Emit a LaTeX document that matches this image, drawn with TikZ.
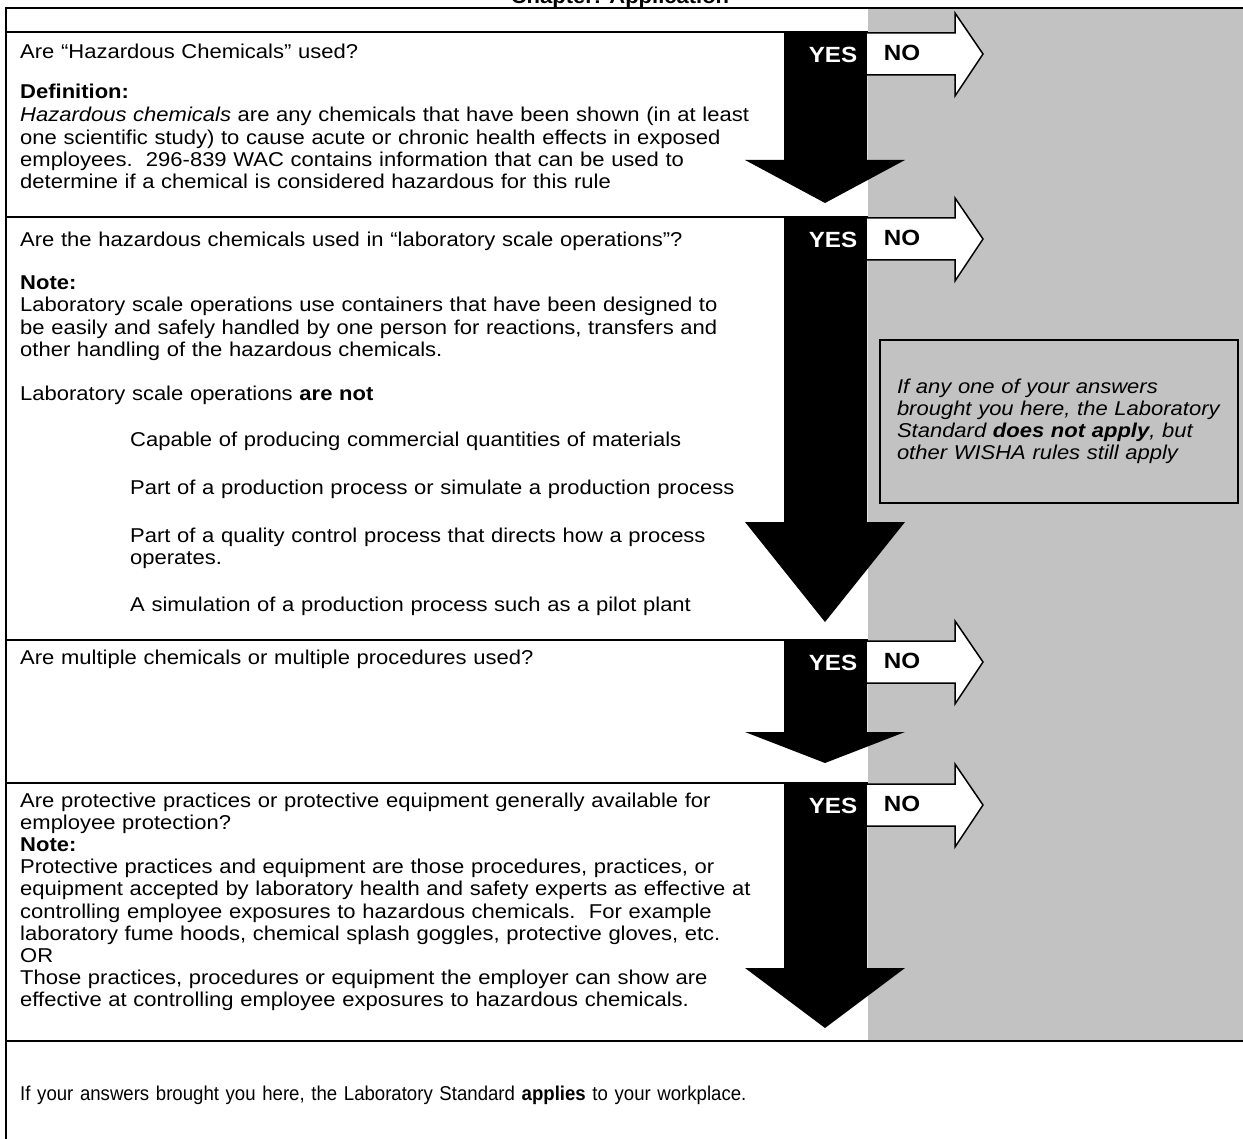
\documentclass[tikz,border=0pt]{standalone}
\usepackage{fontspec}
\setmainfont{Liberation Sans}[FakeStretch=1.1]
\newfontfamily\NarrowFont{Liberation Sans}[FakeStretch=0.93]
\usetikzlibrary{calc}
\newcommand{\ChartUnit}{1pt}
\newcommand{\BodyFont}{\fontsize{20}{22.2}\selectfont}
\newcommand{\MarkFont}{\fontsize{22}{24}\selectfont\bfseries}
\definecolor{scanGray}{gray}{0.76}

\begin{document}
\begin{tikzpicture}[x=\ChartUnit, y=-\ChartUnit, line join=miter,
    frame/.style={draw=black, line width=1.5pt},
    txt/.style={anchor=base west, inner sep=0pt, font=\BodyFont, align=left, text width=1200pt},
    yesno/.style={inner sep=0pt, font=\MarkFont}]
    \useasboundingbox (0,0) rectangle (1243,1139);
    \fill[white] (0,0) rectangle (1243,1139);

    %draw right column and frame
    \fill[scanGray] (868,8) rectangle (1243,1041);
    \draw[frame] (6,1139) -- (6,8) -- (1243,8);
    \draw[frame] (6,32) -- (868,32);
    \draw[frame] (6,217) -- (868,217);
    \draw[frame] (6,640) -- (868,640);
    \draw[frame] (6,783) -- (868,783);
    \draw[frame] (6,1041) -- (1243,1041);
    \node[font=\BodyFont\bfseries, anchor=base] (chapter) at (620,4) {Chapter: Application};

    % draw yes and no arrows
    \foreach \rowTop/\headBase/\tipY [count=\i] in {32/160/203, 217/522/622, 640/732/763, 783/968/1028} {
        \fill[black] (784,\rowTop) -- (867,\rowTop) -- (867,\headBase) -- (905,\headBase)
            -- (825,\tipY) -- (745,\headBase) -- (784,\headBase) -- cycle;
        \filldraw[fill=white, frame] (867,\rowTop+1) -- (955,\rowTop+1) -- (955,\rowTop-19)
            -- (983,\rowTop+22) -- (955,\rowTop+64) -- (955,\rowTop+43) -- (867,\rowTop+43);
        \node[yesno, white] (yes\i) at (833,\rowTop+23) {YES};
        \node[yesno] (no\i) at (902,\rowTop+21) {NO};
    }

    % draw question texts
    \node[txt] (q1) at (20,59) {Are “Hazardous Chemicals” used?};
    \node[txt] (def) at (20,99) {\textbf{Definition:}};
    \node[txt] (defText) at (20,122) {\textit{Hazardous chemicals} are any chemicals that have been shown (in at least\\
        one scientific study) to cause acute or chronic health effects in exposed\\
        employees.\ \ 296-839 WAC contains information that can be used to\\
        determine if a chemical is considered hazardous for this rule};

    \node[txt] (q2) at (20,247) {Are the hazardous chemicals used in “laboratory scale operations”?};
    \node[txt] (note2) at (20,290) {\textbf{Note:}};
    \node[txt] (noteText) at (20,312) {Laboratory scale operations use containers that have been designed to\\
        be easily and safely handled by one person for reactions, transfers and\\
        other handling of the hazardous chemicals.};
    \node[txt] (areNot) at (20,401) {Laboratory scale operations \textbf{are not}};
    \node[txt] (notA) at (130,447) {Capable of producing commercial quantities of materials};
    \node[txt] (notB) at (130,495) {Part of a production process or simulate a production process};
    \node[txt] (notC) at (130,542) {Part of a quality control process that directs how a process\\ operates.};
    \node[txt] (notD) at (130,611) {A simulation of a production process such as a pilot plant};

    \node[txt] (q3) at (20,664) {Are multiple chemicals or multiple procedures used?};

    \node[txt] (q4) at (20,807) {Are protective practices or protective equipment generally available for\\
        employee protection?\\
        \textbf{Note:}\\
        Protective practices and equipment are those procedures, practices, or\\
        equipment accepted by laboratory health and safety experts as effective at\\
        controlling employee exposures to hazardous chemicals.\ \ For example\\
        laboratory fume hoods, chemical splash goggles, protective gloves, etc.\\
        OR\\
        Those practices, procedures or equipment the employer can show are\\
        effective at controlling employee exposures to hazardous chemicals.};

    \node[txt, font=\BodyFont\NarrowFont] (result) at (20,1100) {If your answers brought you here, the Laboratory Standard \textbf{applies} to your workplace.};

    % draw note box in the grey column
    \node[frame, fill=scanGray, minimum width=358, minimum height=163, text width=324pt,
          align=left, font=\BodyFont\itshape, inner sep=0pt] (outBox) at (1059,421.5)
        {If any one of your answers\\ brought you here, the Laboratory\\
         Standard \textbf{does not apply}, but\\ other WISHA rules still apply};
\end{tikzpicture}
\end{document}
